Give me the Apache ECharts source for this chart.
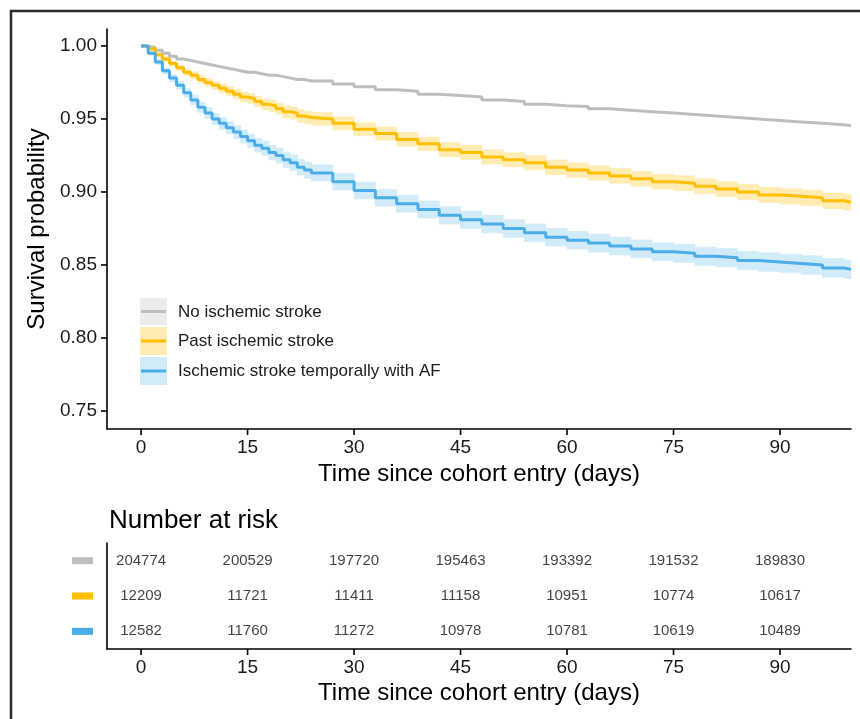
<!DOCTYPE html>
<html>
<head>
<meta charset="utf-8">
<script src="https://cdn.jsdelivr.net/npm/echarts@6/dist/echarts.min.js"></script>
<style>
  html, body { margin: 0; padding: 0; background: #fff; }
  #chart { width: 860px; height: 719px; }
</style>
</head>
<body>
<div id="chart"></div>
<script>
// Time grid (days) - daily while the steps are visible, then every 3 days
const days = [0, 1, 2, 3, 4, 5, 6, 7, 8, 9, 10, 11, 12, 13, 14, 15, 16, 17, 18, 19, 20, 21, 22, 23, 24,
    27, 30, 33, 36, 39, 42, 45, 48, 51, 54, 57, 60, 63, 66, 69, 72, 75, 78, 81, 84, 87, 90, 93, 96, 99, 100];

// Survival estimates
const survNone = [1.000, 0.999, 0.997, 0.995, 0.993, 0.991, 0.990, 0.989, 0.988, 0.987, 0.986, 0.985, 0.984, 0.983, 0.982, 0.982, 0.981, 0.980, 0.980, 0.979, 0.978, 0.977, 0.977, 0.976, 0.976,
    0.974, 0.972, 0.970, 0.969, 0.967, 0.966, 0.965, 0.963, 0.962, 0.960, 0.959, 0.9585, 0.957, 0.956, 0.955, 0.954, 0.953, 0.952, 0.951, 0.950, 0.949, 0.948, 0.947, 0.946, 0.9455, 0.9452];
const survPast = [1.000, 0.998, 0.994, 0.991, 0.988, 0.985, 0.982, 0.980, 0.977, 0.975, 0.973, 0.971, 0.969, 0.967, 0.965, 0.964, 0.962, 0.960, 0.959, 0.957, 0.955, 0.954, 0.952, 0.951, 0.950,
    0.947, 0.943, 0.940, 0.936, 0.933, 0.929, 0.927, 0.924, 0.922, 0.920, 0.917, 0.915, 0.913, 0.911, 0.909, 0.907, 0.906, 0.904, 0.902, 0.900, 0.898, 0.897, 0.896, 0.894, 0.893, 0.8927];
const survTemporal = [1.000, 0.995, 0.989, 0.983, 0.978, 0.973, 0.968, 0.963, 0.958, 0.954, 0.950, 0.947, 0.944, 0.941, 0.938, 0.935, 0.932, 0.930, 0.927, 0.925, 0.922, 0.920, 0.917, 0.915, 0.913,
    0.907, 0.901, 0.896, 0.892, 0.888, 0.884, 0.881, 0.878, 0.875, 0.872, 0.869, 0.867, 0.865, 0.863, 0.861, 0.859, 0.858, 0.856, 0.855, 0.853, 0.852, 0.851, 0.850, 0.848, 0.847, 0.8466];

// Half-width of the confidence bands
const ciPast = [0, 0.0010, 0.0013, 0.0015, 0.0017, 0.0019, 0.0021, 0.0023, 0.0025, 0.0027, 0.0028, 0.0030, 0.0031, 0.0032, 0.0033, 0.0035, 0.0036, 0.0037, 0.0038, 0.0039, 0.0040, 0.0041, 0.0042, 0.0042, 0.0043,
    0.0044, 0.0045, 0.0045, 0.0046, 0.0046, 0.0047, 0.0047, 0.0048, 0.0048, 0.0048, 0.0049, 0.0049, 0.0049, 0.0050, 0.0050, 0.0050, 0.0051, 0.0051, 0.0051, 0.0052, 0.0052, 0.0052, 0.0053, 0.0053, 0.0053, 0.0053];
const ciTemporal = [0, 0.0012, 0.0016, 0.0020, 0.0023, 0.0026, 0.0029, 0.0032, 0.0034, 0.0036, 0.0038, 0.0040, 0.0042, 0.0043, 0.0045, 0.0046, 0.0047, 0.0049, 0.0050, 0.0051, 0.0052, 0.0053, 0.0054, 0.0055, 0.0055,
    0.0056, 0.0057, 0.0057, 0.0058, 0.0058, 0.0059, 0.0059, 0.0059, 0.0060, 0.0060, 0.0060, 0.0060, 0.0061, 0.0061, 0.0061, 0.0061, 0.0062, 0.0062, 0.0062, 0.0062, 0.0063, 0.0063, 0.0063, 0.0063, 0.0063, 0.0063];

// Number at risk table
const riskDays = [0, 15, 30, 45, 60, 75, 90];
const riskNone = [204774, 200529, 197720, 195463, 193392, 191532, 189830];
const riskPast = [12209, 11721, 11411, 11158, 10951, 10774, 10617];
const riskTemporal = [12582, 11760, 11272, 10978, 10781, 10619, 10489];

const groupNames = ['No ischemic stroke', 'Past ischemic stroke', 'Ischemic stroke temporally with AF'];
const tickDays = [0, 15, 30, 45, 60, 75, 90];
const tickProb = [0.75, 0.80, 0.85, 0.90, 0.95, 1.00];

const colNone = '#bebebe';
const colPast = '#ffbf00';
const colTemporal = '#4aade8';
const bandPast = '#ffecb3';
const bandTemporal = '#d2ebf9';
const bandNone = '#ececec';
const FONT = '"Liberation Sans", Arial, Helvetica, sans-serif';
const TICK_LEN = 6;

const gridMain = { left: 107, top: 29, width: 744, height: 400 };
const gridRisk = { left: 107, top: 543, width: 744, height: 106 };

const pairs = (vals) => days.map((d, i) => [d, vals[i]]);

// one rectangle per step of the confidence band: [from, to, low, high]
function bandSeries(vals, ci, fill) {
    const steps = [];
    for (let i = 0; i < days.length - 1; i++) {
        steps.push([days[i], days[i + 1], vals[i] - ci[i], vals[i] + ci[i]]);
    }
    return {
        type: 'custom', silent: true, z: 1,
        renderItem: function(params, api) {
            const p0 = api.coord([api.value(0), api.value(3)]);
            const p1 = api.coord([api.value(1), api.value(2)]);
            return {
                type: 'rect',
                shape: { x: p0[0], y: p0[1], width: p1[0] - p0[0], height: p1[1] - p0[1] },
                style: { fill: fill, stroke: fill, lineWidth: 0.8 }
            };
        },
        encode: { x: [0, 1], y: [2, 3] },
        data: steps
    };
}

function curve(name, vals, color) {
    return {
        name: name, type: 'line', step: 'end', symbol: 'none',
        lineStyle: { color: color, width: 3 }, data: pairs(vals), z: 3
    };
}

function riskRow(row, vals) {
    return {
        type: 'scatter', xAxisIndex: 1, yAxisIndex: 1, symbolSize: 1, silent: true,
        itemStyle: { color: 'rgba(0,0,0,0)' },
        label: {
            show: true, position: 'inside', color: '#111', fontSize: 15, fontFamily: FONT,
            formatter: p => String(p.value[2])
        },
        data: riskDays.map((d, i) => [d, row, vals[i]])
    };
}

const axisLineStyle = { color: '#000', width: 1.6 };

function timeAxis(gridIndex, gap) {
    return {
        type: 'value', gridIndex: gridIndex, min: -4.8, max: 100,
        name: 'Time since cohort entry (days)', nameLocation: 'middle', nameGap: gap,
        nameTextStyle: { fontSize: 24, color: '#000' },
        axisLine: { show: true, onZero: false, lineStyle: axisLineStyle },
        axisTick: { show: false },
        axisLabel: { show: true, customValues: tickDays, fontSize: 19, color: '#1a1a1a', margin: 9 },
        splitLine: { show: false }
    };
}

const staticGraphic = [
    // outer frame (top and left edges visible)
    { type: 'rect', shape: { x: 11, y: 11, width: 900, height: 800 }, style: { fill: null, stroke: '#2b2b2b', lineWidth: 2.5 }, silent: true },
    // legend keys
    { type: 'rect', shape: { x: 140, y: 298, width: 27, height: 27 }, style: { fill: bandNone } },
    { type: 'line', shape: { x1: 141, y1: 311.5, x2: 166, y2: 311.5 }, style: { stroke: colNone, lineWidth: 3 } },
    { type: 'text', style: { x: 178, y: 312, text: groupNames[0], fontSize: 17, fontFamily: FONT, fill: '#1a1a1a', verticalAlign: 'middle' } },
    { type: 'rect', shape: { x: 140, y: 327, width: 27, height: 28 }, style: { fill: bandPast } },
    { type: 'line', shape: { x1: 141, y1: 341, x2: 166, y2: 341 }, style: { stroke: colPast, lineWidth: 3 } },
    { type: 'text', style: { x: 178, y: 341, text: groupNames[1], fontSize: 17, fontFamily: FONT, fill: '#1a1a1a', verticalAlign: 'middle' } },
    { type: 'rect', shape: { x: 140, y: 357, width: 27, height: 28 }, style: { fill: bandTemporal } },
    { type: 'line', shape: { x1: 141, y1: 371, x2: 166, y2: 371 }, style: { stroke: colTemporal, lineWidth: 3 } },
    { type: 'text', style: { x: 178, y: 371, text: groupNames[2], fontSize: 17, fontFamily: FONT, fill: '#1a1a1a', verticalAlign: 'middle' } }
];

var chart = echarts.init(document.getElementById('chart'));
var option = {
    animation: false,
    backgroundColor: '#fff',
    textStyle: { fontFamily: FONT },
    title: {
        text: 'Number at risk', left: 104, top: 503,
        textStyle: { fontSize: 26, fontWeight: 'normal', color: '#000', fontFamily: FONT }
    },
    grid: [gridMain, gridRisk],
    xAxis: [timeAxis(0, 30), timeAxis(1, 32)],
    yAxis: [
        {
            type: 'value', gridIndex: 0, min: 0.7377, max: 1.0116,
            name: 'Survival probability', nameLocation: 'middle', nameGap: 55,
            nameTextStyle: { fontSize: 24, color: '#000' },
            axisLine: { show: true, onZero: false, lineStyle: axisLineStyle },
            axisTick: { show: false },
            axisLabel: { show: true, customValues: tickProb, fontSize: 19, color: '#1a1a1a', margin: 10, formatter: v => v.toFixed(2) },
            splitLine: { show: false }
        },
        {
            type: 'category', gridIndex: 1, inverse: true,
            data: ['none', 'past', 'temporal'],
            axisLine: { show: true, onZero: false, lineStyle: axisLineStyle },
            axisTick: { show: false },
            axisLabel: {
                margin: 14,
                formatter: v => '{' + v + '|}',
                rich: {
                    none: { width: 21, height: 7, backgroundColor: colNone },
                    past: { width: 21, height: 7, backgroundColor: colPast },
                    temporal: { width: 21, height: 7, backgroundColor: colTemporal }
                }
            },
            splitLine: { show: false }
        }
    ],
    series: [
        bandSeries(survPast, ciPast, bandPast),
        bandSeries(survTemporal, ciTemporal, bandTemporal),
        curve(groupNames[0], survNone, colNone),
        curve(groupNames[1], survPast, colPast),
        curve(groupNames[2], survTemporal, colTemporal),
        riskRow('none', riskNone),
        riskRow('past', riskPast),
        riskRow('temporal', riskTemporal)
    ],
    graphic: staticGraphic
};
option && chart.setOption(option);

// Tick marks, placed through the axes' own scales
const tickStyle = { stroke: '#000', lineWidth: 1.6 };
const ticks = [];
const mainBottom = gridMain.top + gridMain.height;
const riskBottom = gridRisk.top + gridRisk.height;
tickDays.forEach(d => {
    const x0 = chart.convertToPixel({ xAxisIndex: 0 }, d);
    const x1 = chart.convertToPixel({ xAxisIndex: 1 }, d);
    ticks.push({ type: 'line', silent: true, shape: { x1: x0, y1: mainBottom, x2: x0, y2: mainBottom + TICK_LEN }, style: tickStyle });
    ticks.push({ type: 'line', silent: true, shape: { x1: x1, y1: riskBottom, x2: x1, y2: riskBottom + TICK_LEN }, style: tickStyle });
});
tickProb.forEach(v => {
    const y = chart.convertToPixel({ yAxisIndex: 0 }, v);
    ticks.push({ type: 'line', silent: true, shape: { x1: gridMain.left - TICK_LEN, y1: y, x2: gridMain.left, y2: y }, style: tickStyle });
});
chart.setOption({ graphic: staticGraphic.concat(ticks) });
</script>
</body>
</html>
